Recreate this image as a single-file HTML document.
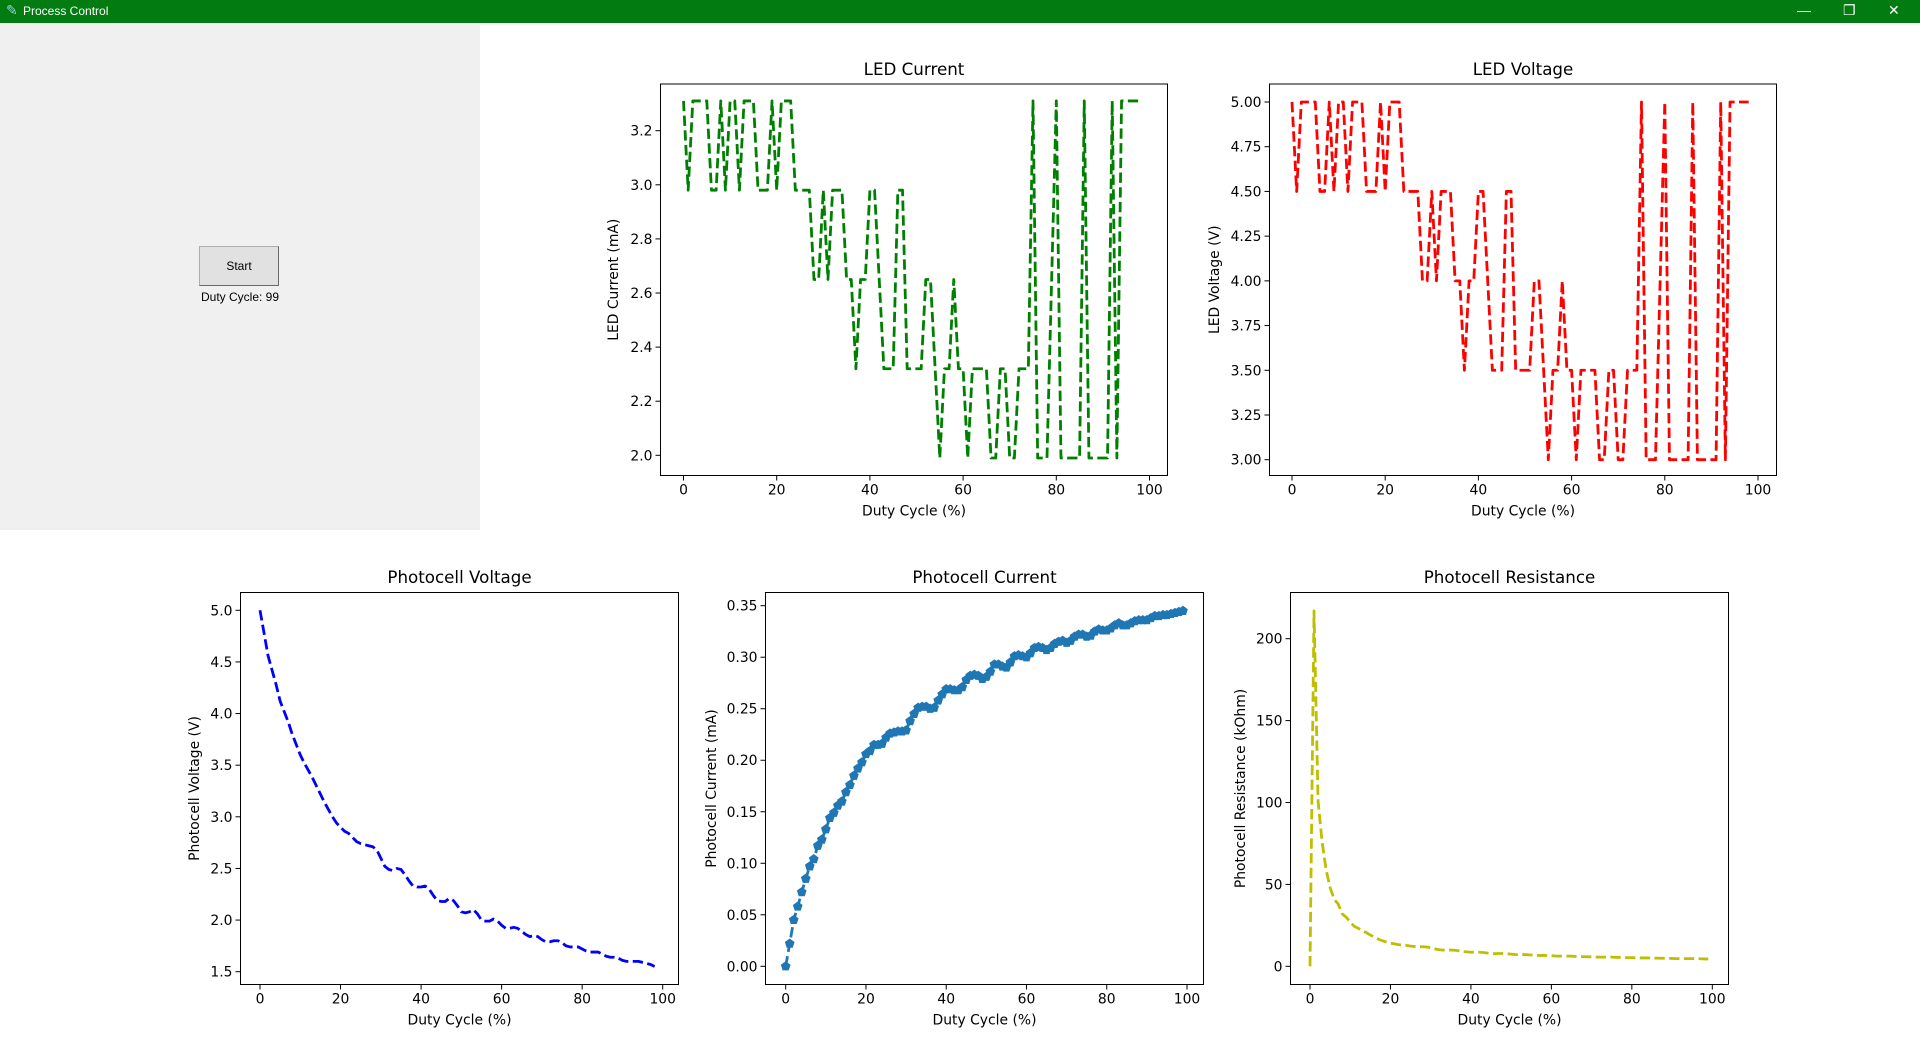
<!DOCTYPE html>
<html><head><meta charset="utf-8"><title>Process Control</title>
<style>
html,body{margin:0;padding:0;width:1920px;height:1040px;overflow:hidden;background:#fff;font-family:"DejaVu Sans","Liberation Sans",sans-serif;}
#titlebar{position:absolute;left:0;top:0;width:1920px;height:23px;background:#027b10;color:#fff;font:12px "Liberation Sans",sans-serif;}
#titlebar .t{position:absolute;left:23px;top:4px;}
#titlebar .ic{position:absolute;top:2px;font-size:14px;}
#panel{position:absolute;left:0;top:23px;width:480px;height:507px;background:#f0f0f0;}
#start{position:absolute;left:199px;top:223px;width:78px;height:38px;background:#e1e1e1;border:1px solid #adadad;border-right-color:#696969;border-bottom-color:#696969;font:12px "Liberation Sans",sans-serif;text-align:center;line-height:38px;cursor:pointer;}
#duty{position:absolute;left:180px;top:267px;width:120px;text-align:center;font:12px "Liberation Sans",sans-serif;}
svg{position:absolute;left:0;top:0;}
</style></head>
<body>
<div id="titlebar">
  <span class="ic" style="left:6px;color:#9cf">✎</span>
  <span class="t">Process Control</span>
  <span class="ic" style="left:1797px">—</span>
  <span class="ic" style="left:1843px">❐</span>
  <span class="ic" style="left:1888px">✕</span>
</div>
<div id="panel">
  <div id="start">Start</div>
  <div id="duty">Duty Cycle: 99</div>
</div>
<svg id="charts" width="1920" height="1040" xmlns="http://www.w3.org/2000/svg"></svg>
<script>
const ledVoltage=[5,4.5,5,5,5,5,4.5,4.5,5,4.5, 5,5,4.5,5,5,5,4.5,4.5,4.5,5, 4.5,5,5,5,4.5,4.5,4.5,4.5,4,4, 4.5,4,4.5,4.5,4.5,4,4,3.5,4,4, 4.5,4.5,4,3.5,3.5,3.5,4.5,4.5,3.5,3.5, 3.5,3.5,4,4,3.5,3,3.5,3.5,4,3.5, 3.5,3,3.5,3.5,3.5,3.5,3,3,3.5,3.5, 3,3,3.5,3.5,3.5,5,3,3,3,4, 5,3,3,3,3,3,5,3,3,3, 3,3,5,3,5,5,5,5,5];
const ledCurrent=[3.31,2.98,3.31,3.31,3.31,3.31,2.98,2.98,3.31,2.98, 3.31,3.31,2.98,3.31,3.31,3.31,2.98,2.98,2.98,3.31, 2.98,3.31,3.31,3.31,2.98,2.98,2.98,2.98,2.65,2.65, 2.98,2.65,2.98,2.98,2.98,2.65,2.65,2.32,2.65,2.65, 2.98,2.98,2.65,2.32,2.32,2.32,2.98,2.98,2.32,2.32, 2.32,2.32,2.65,2.65,2.32,1.99,2.32,2.32,2.65,2.32, 2.32,1.99,2.32,2.32,2.32,2.32,1.99,1.99,2.32,2.32, 1.99,1.99,2.32,2.32,2.32,3.31,1.99,1.99,1.99,2.65, 3.31,1.99,1.99,1.99,1.99,1.99,3.31,1.99,1.99,1.99, 1.99,1.99,3.31,1.99,3.31,3.31,3.31,3.31,3.31];
const pcVoltage=[5.00,4.78,4.56,4.42,4.28,4.12,4.02,3.92,3.80,3.70, 3.60,3.52,3.45,3.38,3.30,3.22,3.14,3.07,3.00,2.94, 2.90,2.86,2.84,2.80,2.76,2.74,2.73,2.72,2.71,2.68, 2.60,2.52,2.49,2.48,2.50,2.49,2.44,2.38,2.33,2.32, 2.32,2.33,2.30,2.24,2.19,2.18,2.18,2.21,2.19,2.14, 2.08,2.07,2.08,2.10,2.06,2.00,1.99,1.99,2.01,1.99, 1.95,1.92,1.92,1.93,1.92,1.89,1.86,1.84,1.85,1.84, 1.81,1.79,1.79,1.80,1.80,1.78,1.75,1.74,1.74,1.74, 1.72,1.70,1.69,1.69,1.69,1.67,1.65,1.64,1.64,1.63, 1.61,1.60,1.60,1.60,1.60,1.59,1.58,1.57,1.55];
const pcCurrent=[0,0.022,0.045,0.058,0.072,0.085,0.097,0.104,0.117,0.123, 0.133,0.144,0.149,0.156,0.160,0.169,0.176,0.185,0.192,0.198, 0.206,0.209,0.215,0.215,0.216,0.222,0.226,0.227,0.228,0.228, 0.229,0.238,0.245,0.251,0.252,0.252,0.250,0.251,0.258,0.264, 0.269,0.269,0.268,0.268,0.271,0.278,0.282,0.283,0.282,0.279, 0.281,0.286,0.293,0.293,0.291,0.290,0.295,0.301,0.302,0.301, 0.300,0.304,0.309,0.310,0.309,0.307,0.309,0.313,0.315,0.316, 0.314,0.316,0.320,0.322,0.322,0.320,0.321,0.325,0.327,0.326, 0.326,0.328,0.331,0.333,0.331,0.331,0.333,0.335,0.336,0.336, 0.336,0.338,0.340,0.340,0.341,0.341,0.342,0.343,0.344,0.345];
const pcResistance=[0,217,101,76,59,48,41,38,32,30, 27,24.4,23.2,21.7,20.6,19.1,17.8,16.6,15.6,14.8, 14.1,13.7,13.2,13.0,12.8,12.3,12.1,12.0,11.9,11.8, 11.4,10.6,10.2,9.9,9.9,9.9,9.8,9.5,9.0,8.8, 8.6,8.7,8.6,8.4,8.1,7.8,7.7,7.8,7.8,7.7, 7.4,7.2,7.1,7.2,7.1,6.9,6.7,6.6,6.7,6.6, 6.5,6.3,6.2,6.2,6.2,6.2,6.0,5.9,5.9,5.8, 5.8,5.7,5.6,5.6,5.6,5.6,5.5,5.4,5.3,5.3, 5.3,5.2,5.1,5.1,5.1,5.0,5.0,4.9,4.9,4.9, 4.8,4.7,4.7,4.7,4.7,4.7,4.6,4.6,4.5,4.5];
const xTickValues=[0,20,40,60,80,100];
const ledCurrentTicks=[2.0,2.2,2.4,2.6,2.8,3.0,3.2];
const ledVoltageTicks=[3.00,3.25,3.50,3.75,4.00,4.25,4.50,4.75,5.00];
const pcVoltageTicks=[1.5,2.0,2.5,3.0,3.5,4.0,4.5,5.0];
const pcCurrentTicks=[0,0.05,0.10,0.15,0.20,0.25,0.30,0.35];
const pcResistanceTicks=[0,50,100,150,200];

const NS='http://www.w3.org/2000/svg';
const svg=document.getElementById('charts');
function el(tag,attrs,parent,text){const e=document.createElementNS(NS,tag);for(const k in attrs)e.setAttribute(k,attrs[k]);if(text!==undefined)e.textContent=text;(parent||svg).appendChild(e);return e;}

function drawChart(c){
  const g=el('g',{},svg);
  
  
  const [L,T,R,B]=c.box;
  const sx=v=>c.xp0+(v-0)*(c.xp100-c.xp0)/100;
  const sy=v=>c.yp1+(v-c.yv1)*(c.yp2-c.yp1)/(c.yv2-c.yv1);
  const t=el('text',{x:(L+R)/2,y:c.titleY,'text-anchor':'middle','font-size':'16.7px',fill:'#000'},g,c.title);
  
  
  xTickValues.forEach(v=>{const x=sx(v);
    el('line',{x1:x,y1:B,x2:x,y2:B+5,stroke:'#000','stroke-width':1},g);
    const tl=el('text',{x:x,y:B+19,'text-anchor':'middle','font-size':'13.9px',fill:'#000'},g,String(v));
    
    
  });
  c.yticks.forEach(v=>{const y=sy(v);
    el('line',{x1:L-5,y1:y,x2:L,y2:y,stroke:'#000','stroke-width':1},g);
    const tl=el('text',{x:L-8,y:y+5,'text-anchor':'end','font-size':'13.9px',fill:'#000'},g,v.toFixed(c.dec));
    
    
  });
  const xl=el('text',{x:(L+R)/2,y:B+40,'text-anchor':'middle','font-size':'13.9px',fill:'#000'},g,'Duty Cycle (%)');
  
  
  const yl=el('text',{x:0,y:0,'text-anchor':'middle','font-size':'13.9px',fill:'#000',transform:`translate(${c.ylabelX},${(T+B)/2}) rotate(-90)`},g,c.ylabel);
  
  
  const pts=c.data.map((v,i)=>sx(i).toFixed(2)+','+sy(v).toFixed(2)).join(' ');
  const line=el('polyline',{points:pts,fill:'none',stroke:c.color,'stroke-width':2.8,'stroke-dasharray':'10.3 4.4','stroke-linejoin':'round'},g);
  
  
  if(c.marker){
    c.data.forEach((v,i)=>{const cx=sx(i),cy=sy(v),r=4.6;let p=[];
      for(let k=0;k<5;k++){const a=-Math.PI/2+k*2*Math.PI/5;p.push((cx+r*Math.cos(a)).toFixed(2)+','+(cy+r*Math.sin(a)).toFixed(2));}
      const m=el('polygon',{points:p.join(' '),fill:c.color,stroke:c.color,'stroke-width':0.8},g);
      
      
    });
  }
  const fr=el('rect',{x:L,y:T,width:R-L,height:B-T,fill:'none',stroke:'#000','stroke-width':1},g);
  
  
}

drawChart({name:'led-current-chart',box:[660.5,84,1167.5,475.5],xp0:683.5,xp100:1149.5,yv1:3.2,yp1:130.7,yv2:2.0,yp2:455.3,yticks:ledCurrentTicks,dec:1,data:ledCurrent,color:'#008000',title:'LED Current',titleY:75,ylabel:'LED Current (mA)',ylabelX:618});
drawChart({name:'led-voltage-chart',box:[1269.5,84,1776.5,475.5],xp0:1292,xp100:1758,yv1:5.0,yp1:102,yv2:3.0,yp2:459.7,yticks:ledVoltageTicks,dec:2,data:ledVoltage,color:'#ff0000',title:'LED Voltage',titleY:75,ylabelX:1219,ylabel:'LED Voltage (V)'});
drawChart({name:'photocell-voltage-chart',box:[240.5,592.5,678.5,984.5],xp0:260,xp100:662.7,yv1:5.0,yp1:610.3,yv2:1.5,yp2:971.7,yticks:pcVoltageTicks,dec:1,data:pcVoltage,color:'#0000ff',title:'Photocell Voltage',titleY:583,ylabelX:199,ylabel:'Photocell Voltage (V)'});
drawChart({name:'photocell-current-chart',box:[765.5,592.5,1203.5,984.5],xp0:785.7,xp100:1187,yv1:0.35,yp1:605.7,yv2:0,yp2:966.3,yticks:pcCurrentTicks,dec:2,data:pcCurrent,color:'#1f77b4',marker:true,title:'Photocell Current',titleY:583,ylabelX:716,ylabel:'Photocell Current (mA)'});
drawChart({name:'photocell-resistance-chart',box:[1290.5,592.5,1728.5,984.5],xp0:1310,xp100:1712.3,yv1:200,yp1:638.7,yv2:0,yp2:966.3,yticks:pcResistanceTicks,dec:0,data:pcResistance,color:'#bfbf00',title:'Photocell Resistance',titleY:583,ylabelX:1245,ylabel:'Photocell Resistance (kOhm)'});
</script>
</body></html>
